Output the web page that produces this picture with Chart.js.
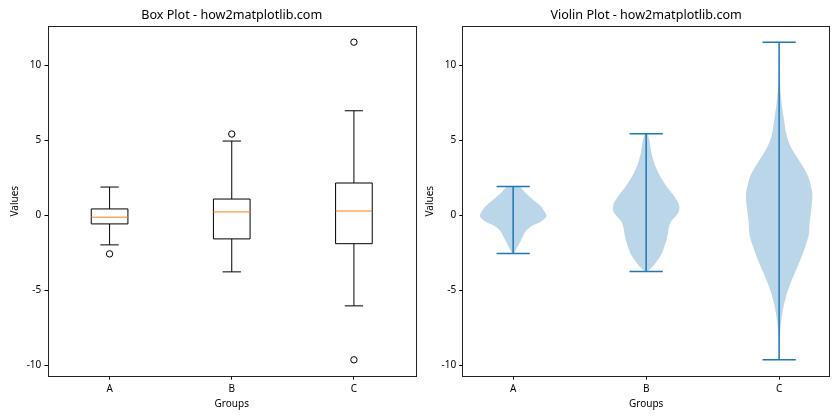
<!DOCTYPE html>
<html>
<head>
<meta charset="utf-8">
<script src="https://cdn.jsdelivr.net/npm/chart.js@4.4.0/dist/chart.umd.min.js"></script>
<style>
  body { margin: 0; background: #fff; }
  #wrap { display: flex; width: 840px; height: 420px; }
</style>
</head>
<body>
<div id="wrap">
  <canvas id="boxChart" width="420" height="420"></canvas>
  <canvas id="violinChart" width="420" height="420"></canvas>
</div>
<script>
// ---- data ----
const groups = ['A', 'B', 'C'];
const yTicks = [-10, -5, 0, 5, 10];

// box plot statistics
const boxLow = [-1.97, -3.77, -6.04];
const boxQ1 = [-0.57, -1.57, -1.89];
const boxMed = [-0.12, 0.23, 0.29];
const boxQ3 = [0.43, 1.09, 2.16];
const boxHigh = [1.89, 4.96, 6.98];
const fliers = [[-2.57], [5.43], [11.56, -9.64]];

// violin extents
const violinMin = [-2.55, -3.74, -9.63];
const violinMax = [1.92, 5.45, 11.56];

// violin outlines: value and relative half width (1 = widest)
const violinA_y = [1.92, 1.49, 1.05, 0.60, 0.16, -0.06, -0.40, -0.73, -1.06, -1.51, -1.95, -2.33, -2.55];
const violinA_w = [0.20, 0.37, 0.60, 0.84, 0.97, 1.00, 0.85, 0.55, 0.38, 0.27, 0.17, 0.08, 0.02];
const violinB_y = [5.45, 5.16, 4.71, 4.27, 3.82, 3.16, 2.49, 1.82, 1.16, 0.60, 0.16, -0.40, -0.84, -1.29, -1.73, -2.40, -2.75, -3.07, -3.42, -3.74];
const violinB_w = [0.04, 0.08, 0.12, 0.15, 0.20, 0.30, 0.45, 0.65, 0.88, 1.00, 0.96, 0.75, 0.68, 0.65, 0.60, 0.50, 0.42, 0.32, 0.20, 0.03];
const violinC_y = [11.56, 8.93, 7.6, 6.49, 5.38, 4.49, 3.6, 2.71, 1.82, 1.38, 0.49, -0.40, -1.29, -2.18, -3.07, -3.96, -4.84, -5.73, -6.62, -7.51, -8.4, -9.63];
const violinC_w = [0.0, 0.02, 0.07, 0.14, 0.22, 0.37, 0.62, 0.85, 0.97, 1.00, 0.97, 0.92, 0.89, 0.77, 0.62, 0.45, 0.29, 0.17, 0.09, 0.04, 0.01, 0.0];

const violinShapes = [[violinA_y, violinA_w], [violinB_y, violinB_w], [violinC_y, violinC_w]];

const BLUE = '#1f77b4';
Chart.defaults.font.family = '"Noto Sans", "Open Sans", sans-serif';
Chart.defaults.font.size = 10;
Chart.defaults.color = '#000';

// draw the axes box like matplotlib
const framePlugin = {
  id: 'frame',
  afterDraw(chart) {
    const a = chart.chartArea, ctx = chart.ctx;
    ctx.save();
    ctx.strokeStyle = '#222';
    ctx.lineWidth = 1;
    ctx.strokeRect(Math.round(a.left) - 0.5, Math.round(a.top) - 0.5,
      Math.round(a.right - a.left) + 1, Math.round(a.bottom - a.top) + 1);
    ctx.restore();
  }
};

const boxPlugin = {
  id: 'boxes',
  beforeDatasetsDraw(chart) {
    const { ctx, scales: { x, y } } = chart;
    ctx.save();
    ctx.lineWidth = 1;
    groups.forEach((g, i) => {
      const pos = i + 1;
      const xl = x.getPixelForValue(pos - 0.15), xr = x.getPixelForValue(pos + 0.15);
      const cl = x.getPixelForValue(pos - 0.075), cr = x.getPixelForValue(pos + 0.075);
      const xc = x.getPixelForValue(pos);
      const yq1 = y.getPixelForValue(boxQ1[i]), yq3 = y.getPixelForValue(boxQ3[i]);
      const ylo = y.getPixelForValue(boxLow[i]), yhi = y.getPixelForValue(boxHigh[i]);
      const ym = y.getPixelForValue(boxMed[i]);
      ctx.strokeStyle = '#000';
      ctx.beginPath();
      ctx.rect(xl, yq3, xr - xl, yq1 - yq3);
      ctx.moveTo(xc, yq1); ctx.lineTo(xc, ylo);
      ctx.moveTo(xc, yq3); ctx.lineTo(xc, yhi);
      ctx.moveTo(cl, ylo); ctx.lineTo(cr, ylo);
      ctx.moveTo(cl, yhi); ctx.lineTo(cr, yhi);
      ctx.stroke();
      ctx.strokeStyle = '#ff7f0e';
      ctx.beginPath();
      ctx.moveTo(xl, ym); ctx.lineTo(xr, ym);
      ctx.stroke();
    });
    ctx.restore();
  }
};

const violinLinesPlugin = {
  id: 'violinLines',
  afterDatasetsDraw(chart) {
    const { ctx, scales: { x, y } } = chart;
    ctx.save();
    ctx.strokeStyle = BLUE;
    ctx.lineWidth = 1.5;
    groups.forEach((g, i) => {
      const pos = i + 1;
      const xc = x.getPixelForValue(pos);
      const cl = x.getPixelForValue(pos - 0.125), cr = x.getPixelForValue(pos + 0.125);
      const ylo = y.getPixelForValue(violinMin[i]), yhi = y.getPixelForValue(violinMax[i]);
      ctx.beginPath();
      ctx.moveTo(xc, ylo); ctx.lineTo(xc, yhi);
      ctx.moveTo(cl, ylo); ctx.lineTo(cr, ylo);
      ctx.moveTo(cl, yhi); ctx.lineTo(cr, yhi);
      ctx.stroke();
    });
    ctx.restore();
  }
};

function axes(xMin, xMax, yWidth) {
  return {
    x: {
      type: 'linear', min: xMin, max: xMax,
      afterBuildTicks: s => { s.ticks = groups.map((g, i) => ({ value: i + 1 })); },
      afterFit: s => { s.height = 44.3; },
      ticks: { callback: v => groups[v - 1], padding: 3, maxRotation: 0 },
      grid: { drawOnChartArea: false, tickLength: 4, tickColor: '#000' },
      border: { display: false },
      title: { display: true, text: 'Groups', font: { size: 10 }, padding: { top: 0, bottom: 10 } }
    },
    y: {
      type: 'linear', min: -10.7, max: 12.59,
      afterBuildTicks: s => { s.ticks = yTicks.map(v => ({ value: v })); },
      afterFit: s => { s.width = yWidth; },
      ticks: { callback: v => String(v), padding: 3.2 },
      grid: { drawOnChartArea: false, tickLength: 4, tickColor: '#000' },
      border: { display: false },
      title: { display: true, text: 'Values', font: { size: 10 }, padding: { top: yWidth - 39, bottom: 0 } }
    }
  };
}

function titleOpts(text) {
  return {
    display: true, text: text, fullSize: false, color: '#000',
    font: { size: 12.6, weight: 'normal' },
    padding: { top: 8, bottom: 3.6 }
  };
}

// ---- box plot ----
const flierPoints = [];
fliers.forEach((list, i) => list.forEach(v => flierPoints.push({ x: i + 1, y: v })));

new Chart(document.getElementById('boxChart'), {
  type: 'scatter',
  data: {
    datasets: [{
      data: flierPoints,
      pointStyle: 'circle', pointRadius: 3.2,
      borderColor: '#000', borderWidth: 1, backgroundColor: 'rgba(0,0,0,0)'
    }]
  },
  options: {
    responsive: false, animation: false, events: [],
    layout: { padding: { left: 0, right: 4.7, top: 0, bottom: 0 } },
    scales: axes(0.5, 3.5, 48.5),
    plugins: { legend: { display: false }, tooltip: { enabled: false },
      title: titleOpts('Box Plot - how2matplotlib.com') }
  },
  plugins: [boxPlugin, framePlugin]
});

// ---- violin plot ----
const violinDatasets = violinShapes.map(([ys, ws], i) => {
  const pos = i + 1;
  const right = ys.map((v, k) => ({ x: pos + 0.25 * ws[k], y: v }));
  const left = ys.map((v, k) => ({ x: pos - 0.25 * ws[k], y: v })).reverse();
  return {
    type: 'line',
    data: right.concat(left),
    fill: 'shape', borderWidth: 0, pointRadius: 0, tension: 0.35,
    borderColor: 'rgba(0,0,0,0)', backgroundColor: 'rgba(31,119,180,0.3)'
  };
});

new Chart(document.getElementById('violinChart'), {
  type: 'scatter',
  data: { datasets: violinDatasets },
  options: {
    responsive: false, animation: false, events: [],
    layout: { padding: { left: 0, right: 11, top: 0, bottom: 0 } },
    scales: axes(0.625, 3.375, 43.3),
    plugins: { legend: { display: false }, tooltip: { enabled: false },
      title: titleOpts('Violin Plot - how2matplotlib.com') }
  },
  plugins: [violinLinesPlugin, framePlugin]
});
</script>
</body>
</html>
